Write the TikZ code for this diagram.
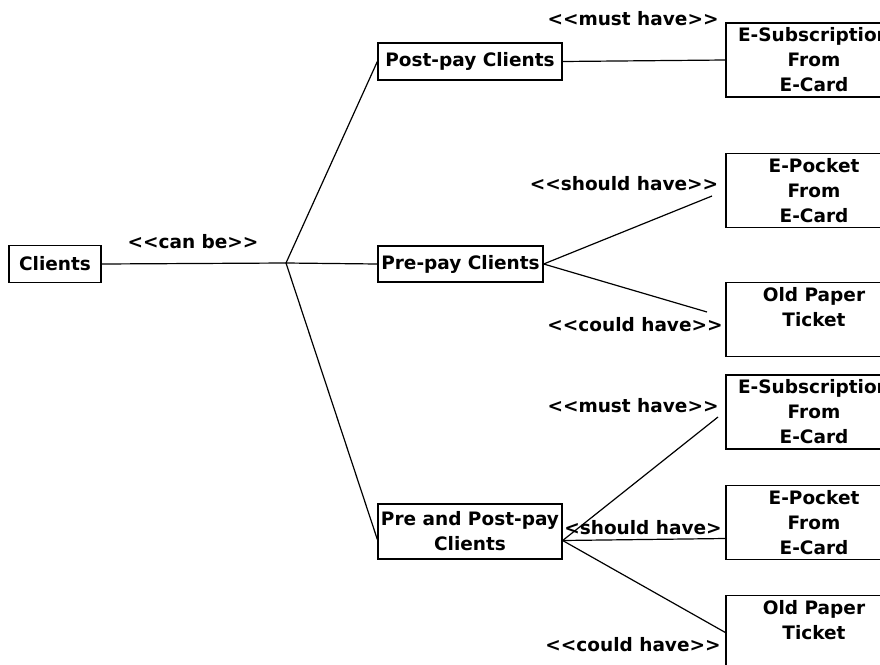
\documentclass[tikz,border=0pt]{standalone}
\usepackage{fontspec}
\setmainfont{DejaVu Sans}
\tikzset{
  every node/.style={font=\bfseries\fontsize{18.5pt}{25pt}\selectfont},
  box/.style={draw, line width=1.3pt, align=center, inner sep=0pt},
  rbox/.style={box, minimum width=176pt, minimum height=74pt},
  conn/.style={line width=1.2pt},
  lbl/.style={inner sep=0pt}
}
\begin{document}
\begin{tikzpicture}[x=1pt,y=-1pt]
\clip (0,0) rectangle (880,664);
\fill[white] (0,0) rectangle (880,664);
% boxes
\node[box, minimum width=92pt, minimum height=37pt] (clients) at (55,264) {Clients};
\node[box, minimum width=184pt, minimum height=37pt] (post) at (470,61.5) {Post-pay Clients};
\node[box, minimum width=165pt, minimum height=36pt] (pre) at (460.5,264) {Pre-pay Clients};
\node[box, minimum width=184pt, minimum height=55pt] (prepost) at (470,531.5) {Pre and Post-pay\\Clients};
\node[rbox] (esub1) at (814,60) {E-Subscription\\From\\E-Card};
\node[rbox] (epock1) at (814,190.5) {E-Pocket\\From\\E-Card};
\node[rbox] (old1) at (814,319.5) {Old Paper\\Ticket\\~};
\node[rbox] (esub2) at (814,412) {E-Subscription\\From\\E-Card};
\node[rbox] (epock2) at (814,522.5) {E-Pocket\\From\\E-Card};
\node[rbox] (old2) at (814,632.5) {Old Paper\\Ticket\\~};
% coordinates
\coordinate (branch) at (286,263);
\coordinate (pp) at ([yshift=-9pt]prepost.east);
\coordinate (ppin) at ([yshift=-8pt]prepost.west);
\coordinate (preup) at (712,196);
\coordinate (predown) at (707,312);
\coordinate (ppup) at (718,417);
% connectors
\draw[conn] (clients.east) -- (branch);
\draw[conn] (branch) -- (post.west);
\draw[conn] (branch) -- (pre.west);
\draw[conn] (branch) -- (ppin);
\draw[conn] (post.east) -- (esub1.west);
\draw[conn] (pre.east) -- (preup);
\draw[conn] (pre.east) -- (predown);
\draw[conn] (pp) -- (ppup);
\draw[conn] (pp) -- ([yshift=-16pt]epock2.west);
\draw[conn] (pp) -- (old2.west);
% labels
\node[lbl] (l1) at (193,242) {{<}{<}can be{>}{>}};
\node[lbl] (l2) at (633,19) {{<}{<}must have{>}{>}};
\node[lbl] (l3) at (624,184) {{<}{<}should have{>}{>}};
\node[lbl] (l4) at (635,325) {{<}{<}could have{>}{>}};
\node[lbl] (l5) at (633,406) {{<}{<}must have{>}{>}};
\node[lbl] (l6) at (643,528) {{<}should have{>}};
\node[lbl] (l7) at (633,645) {{<}{<}could have{>}{>}};
\end{tikzpicture}
\end{document}
